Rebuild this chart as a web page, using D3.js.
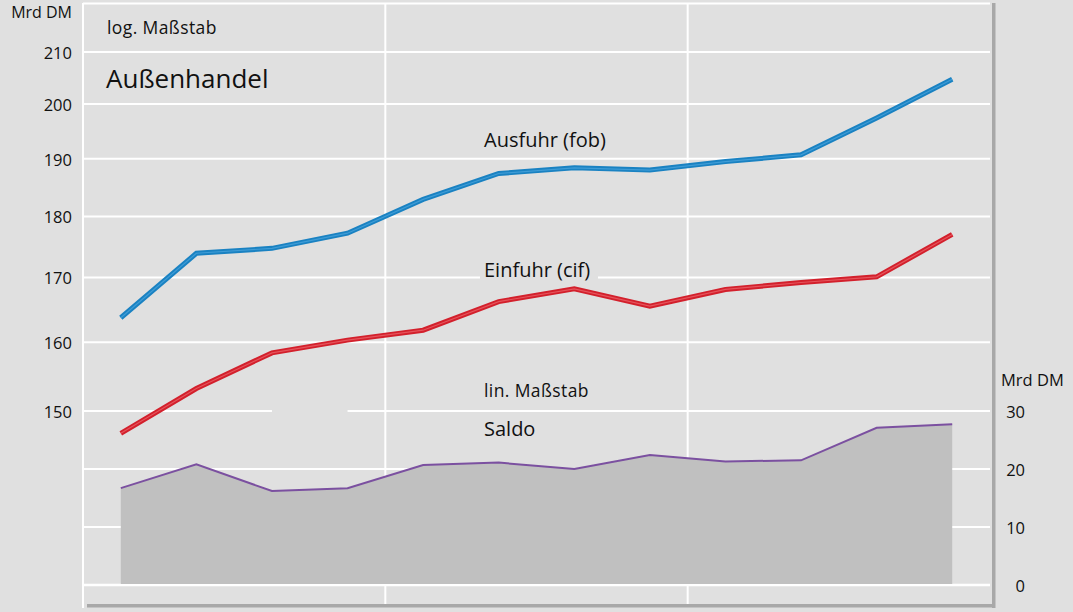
<!DOCTYPE html>
<html><head><meta charset="utf-8">
<script src="https://cdn.jsdelivr.net/npm/d3@7"></script>
<style>html,body{margin:0;padding:0;background:#e0e0e0;}svg{display:block;font-family:"Open Sans",sans-serif;}</style>
</head><body>
<script>
const periods = ["1/1","2/1","3/1","4/1","1/2","2/2","3/2","4/2","1/3","2/3","3/3","4/3"];
const ausfuhr = [163.7,173.9,174.7,177.2,182.9,187.4,188.4,188.0,189.5,190.7,197.4,204.7];
const einfuhr = [146.9,153.2,158.4,160.3,161.8,166.2,168.2,165.5,168.1,169.2,170.1,177.0];
const saldo   = [16.7,20.8,16.2,16.7,20.7,21.1,20.0,22.4,21.3,21.5,27.1,27.7];
const logTicks = [150,160,170,180,190,200,210];
const linTicks = [0,10,20,30];

const W = 1073, H = 612;
const svg = d3.select("body").append("svg").attr("width", W).attr("height", H);
svg.append("rect").attr("width", W).attr("height", H).attr("fill", "#e0e0e0");

const left = 83, right = 990;
const x = d3.scalePoint().domain(periods).range([left, right]).padding(0.5);
const yLog = d3.scaleLog().domain([150, 210]).range([411, 52]);
const yLin = d3.scaleLinear().domain([0, 30]).range([585, 411]);

// frame shadows
svg.append("rect").attr("x", 992).attr("y", 3).attr("width", 3.5).attr("height", 605).attr("fill", "#a8a8a8");
svg.append("rect").attr("x", 87).attr("y", 604).attr("width", 908).attr("height", 3.5).attr("fill", "#a8a8a8");

const grid = svg.append("g").attr("stroke", "#ffffff").attr("stroke-width", 2);
grid.append("line").attr("x1", left).attr("x2", right).attr("y1", 3.5).attr("y2", 3.5);
grid.append("line").attr("x1", left).attr("x2", left).attr("y1", 3).attr("y2", 608);
const step = x.step();
[3, 7].forEach(i => {
  grid.append("line").attr("x1", x(periods[i]) + step / 2).attr("x2", x(periods[i]) + step / 2)
    .attr("y1", 3).attr("y2", 604);
});
logTicks.forEach(t => {
  grid.append("line").attr("x1", left).attr("x2", right).attr("y1", yLog(t)).attr("y2", yLog(t));
});
linTicks.forEach(t => {
  grid.append("line").attr("x1", left).attr("x2", right).attr("y1", yLin(t)).attr("y2", yLin(t))
    .attr("stroke-width", t === 0 ? 2.5 : 2);
});
svg.append("rect").attr("x", x(periods[2])).attr("y", yLog(150) - 2)
  .attr("width", x(periods[3]) - x(periods[2])).attr("height", 4).attr("fill", "#e0e0e0");

// axis labels
const la = svg.append("g").attr("font-size", 16.5).attr("fill", "#111");
la.append("text").attr("x", 72).attr("y", 18).attr("font-size", 16).attr("text-anchor", "end").text("Mrd DM");
logTicks.forEach(t => {
  la.append("text").attr("x", 72).attr("y", yLog(t) + 7).attr("text-anchor", "end").text(t);
});
la.append("text").attr("x", 1001).attr("y", 386).text("Mrd DM");
linTicks.forEach(t => {
  la.append("text").attr("x", 1025).attr("y", yLin(t) + 7).attr("text-anchor", "end").text(t);
});

// saldo area
svg.append("path").datum(saldo)
  .attr("d", d3.area().x((d, i) => x(periods[i])).y0(yLin(0) - 1).y1(d => yLin(d)))
  .attr("fill", "#c0c0c0");
svg.append("path").datum(saldo)
  .attr("d", d3.line().x((d, i) => x(periods[i])).y(d => yLin(d)))
  .attr("fill", "none").attr("stroke", "#7b50a0").attr("stroke-width", 2);

function dbl(data, c1, c2) {
  const ln = d3.line().x((d, i) => x(periods[i])).y(d => yLog(d));
  svg.append("path").datum(data).attr("d", ln).attr("fill", "none")
    .attr("stroke", c1).attr("stroke-width", 5);
  svg.append("path").datum(data).attr("d", ln).attr("fill", "none")
    .attr("stroke", c2).attr("stroke-width", 1.2);
}
dbl(ausfuhr, "#1a82c2", "#3f9cd6");
dbl(einfuhr, "#d3202c", "#e5545c");

// labels
svg.append("rect").attr("x", 480).attr("y", 260).attr("width", 118).attr("height", 26).attr("fill", "#e0e0e0");
const tl = svg.append("g").attr("fill", "#111");
tl.append("text").attr("x", 107).attr("y", 34).attr("font-size", 17.5).attr("letter-spacing", 0.4).text("log. Maßstab");
tl.append("text").attr("x", 106).attr("y", 88).attr("font-size", 26).text("Außenhandel");
tl.append("text").attr("x", 484).attr("y", 147).attr("font-size", 20).text("Ausfuhr (fob)");
tl.append("text").attr("x", 484).attr("y", 277).attr("font-size", 20).text("Einfuhr (cif)");
tl.append("text").attr("x", 484).attr("y", 397).attr("font-size", 17.5).attr("letter-spacing", 0.4).text("lin. Maßstab");
tl.append("text").attr("x", 484).attr("y", 436).attr("font-size", 20).text("Saldo");
</script>
</body></html>
